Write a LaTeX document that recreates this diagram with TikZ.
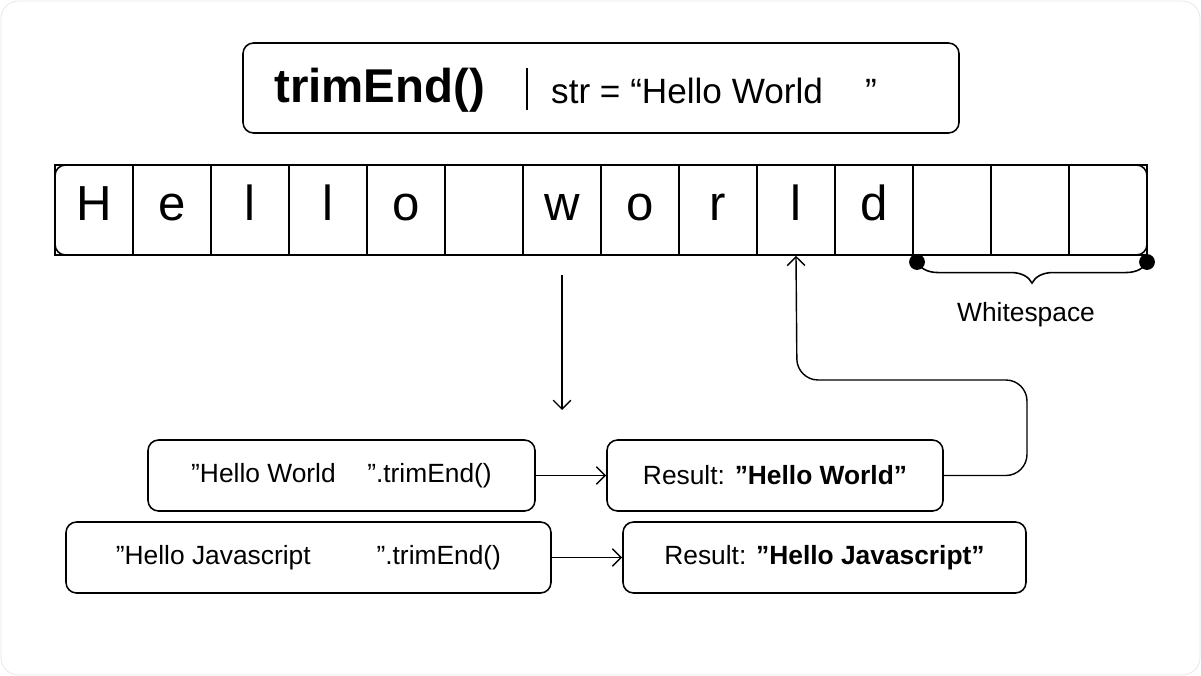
\documentclass[tikz,border=0pt]{standalone}
\usepackage{fontspec}
\setmainfont{Liberation Sans}
\usetikzlibrary{decorations.pathreplacing,arrows.meta}
\begin{document}
\begin{tikzpicture}[x=0.02cm,y=-0.02cm,
  box/.style={draw,rounded corners=6pt,line width=0.9pt},
  cell/.style={draw,line width=0.9pt,minimum width=78*0.02cm,minimum height=90*0.02cm,inner sep=0pt,font=\fontsize{28}{30}\selectfont},
  txt/.style={font=\fontsize{15}{17}\selectfont},
  arr/.style={-{Straight Barb[length=5pt]},line width=0.8pt}]
\useasboundingbox (0,0) rectangle (1201,676);
\draw[black!10,rounded corners=10pt] (1,1) rectangle (1200,675);
% title
\node[box,minimum width=716*0.02cm,minimum height=90*0.02cm] (title) at (601,88) {};
\node[anchor=west,font=\fontsize{27}{30}\selectfont\bfseries] (tname) at (268,90) {trimEnd()};
\draw[line width=1pt] (527,68) -- (527,110);
\node[anchor=west,font=\fontsize{20}{24}\selectfont] (tstr) at (545,91) {str = “Hello World\hspace{1.2em}”};
% cells
\foreach \l [count=\i] in {H,e,l,l,o,{},w,o,r,l,d,{},{},{}}{
  \node[cell] (c\i) at (55+78*\i-39,210) {\strut\l};
}
\draw[line width=0.9pt,rounded corners=6pt] (55,165) rectangle (1147,255);
% whitespace brace
\coordinate (b1) at (917,262);
\coordinate (b2) at (1147,262);
\fill (b1) circle (4.5pt) (b2) circle (4.5pt);
\draw[decorate,decoration={brace,mirror,amplitude=12pt},line width=0.9pt] (b1) -- (b2);
\node[txt] (ws) at (1026,315) {Whitespace};
% arrow down
\coordinate (d1) at (562,275);
\coordinate (d2) at (562,410);
\draw[arr] (d1) -- (d2);
% boxes
\node[box,txt,minimum width=387*0.02cm,minimum height=71*0.02cm] (e1) at (341.5,475.5) {"Hello World\hspace{1.2em}".trimEnd()};
\node[box,txt,minimum width=336*0.02cm,minimum height=71*0.02cm] (r1) at (775,475.5) {Result: \textbf{"Hello World"}};
\node[box,txt,minimum width=485*0.02cm,minimum height=71*0.02cm] (e2) at (308.5,557.5) {"Hello Javascript\hspace{2.5em}".trimEnd()};
\node[box,txt,minimum width=403*0.02cm,minimum height=71*0.02cm] (r2) at (824.5,557.5) {Result: \textbf{"Hello Javascript"}};
\draw[arr] (e1) -- (r1);
\draw[arr] (e2) -- (r2);
\draw[arr,rounded corners=12pt] (r1.east) -- (1027,475.5) -- (1027,380) -- (797,380) -- (c10.south);
\end{tikzpicture}
\end{document}
